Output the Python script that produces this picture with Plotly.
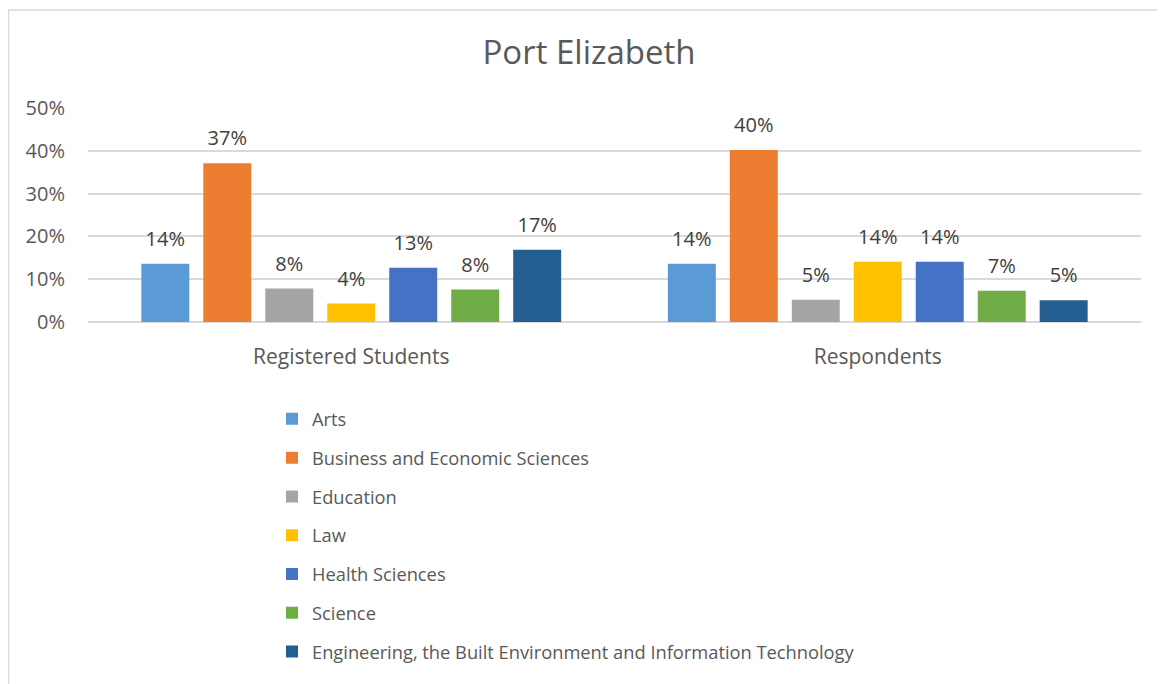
import plotly.graph_objects as go

groups = ["Registered Students", "Respondents"]
faculties = [
    "Arts",
    "Business and Economic Sciences",
    "Education",
    "Law",
    "Health Sciences",
    "Science",
    "Engineering, the Built Environment and Information Technology",
]
registered = [0.136, 0.371, 0.078, 0.043, 0.127, 0.076, 0.169]
respondents = [0.136, 0.402, 0.052, 0.141, 0.141, 0.073, 0.051]
colors = ["#5B9BD5", "#ED7D31", "#A5A5A5", "#FFC000", "#4472C4", "#70AD47", "#255E91"]
y_ticks = [0, 0.1, 0.2, 0.3, 0.4, 0.5]

FONT = "Open Sans"
TXT = "#595959"

# page has an 8px body margin, so the figure is a bit smaller than the window
OFF = 8
W, H = 1165 - OFF, 684 - OFF
L, R, T, B = 88 - OFF, 24, 107.7 - OFF, 684 - 322.3
pw, ph = W - L - R, H - T - B
BARGAP = 0.176


def px_x(x):
    return (x - OFF - L) / pw


def px_y(y):
    return (H - B - (y - OFF)) / ph


fig = go.Figure()
for i, name in enumerate(faculties):
    vals = [registered[i], respondents[i]]
    fig.add_trace(
        go.Bar(
            x=groups, y=vals, name=name, legendgroup=name,
            marker_color=colors[i], marker_line_width=0,
        )
    )
for i, name in enumerate(faculties):
    vals = [registered[i], respondents[i]]
    # data labels, grouped the same way as the bars so they sit on top of them
    fig.add_trace(
        go.Scatter(
            x=groups, y=vals, name=name, legendgroup=name, showlegend=False,
            mode="markers+text",
            marker=dict(size=19, color="rgba(0,0,0,0)"),
            text=[f"{v:.0%}" for v in vals],
            textposition="top center",
            textfont=dict(family=FONT, size=20, color="#404040"),
            cliponaxis=False, hoverinfo="skip",
        )
    )

# outer chart frame
fig.add_shape(
    type="rect", xref="paper", yref="paper",
    x0=px_x(8.5), x1=px_x(1190), y0=px_y(720), y1=px_y(9.5),
    line=dict(color="#D9D9D9", width=1.5), layer="below",
)

fig.update_layout(
    width=W, height=H,
    margin=dict(l=L, r=R, t=T, b=B, autoexpand=False),
    paper_bgcolor="white", plot_bgcolor="white",
    title=dict(
        text="Port Elizabeth", x=(589 - OFF) / W, xanchor="center",
        y=1 - (52 - OFF) / H, yanchor="middle",
        font=dict(family=FONT, size=33, color=TXT),
    ),
    barmode="group", bargap=BARGAP, bargroupgap=0.226,
    scattermode="group", scattergap=BARGAP,
    font=dict(family=FONT, color=TXT, size=18),
    showlegend=True,
    legend=dict(
        orientation="v", x=px_x(272), xanchor="left",
        y=px_y(401), yanchor="top",
        traceorder="grouped", tracegroupgap=12,
        font=dict(family=FONT, size=18.3, color=TXT),
        bgcolor="rgba(0,0,0,0)",
    ),
    xaxis=dict(
        showgrid=False, showline=False, zeroline=False,
        ticks="outside", ticklen=16, tickcolor="rgba(0,0,0,0)",
        tickfont=dict(family=FONT, size=21, color=TXT),
    ),
    yaxis=dict(
        range=[0, 0.5], tickvals=y_ticks, tickformat=".0%",
        showgrid=True, gridcolor="#D9D9D9", gridwidth=1.5,
        zeroline=True, zerolinecolor="#D9D9D9", zerolinewidth=1.5,
        showline=False, ticklabelstandoff=22,
        tickfont=dict(family=FONT, size=20, color=TXT),
    ),
)

fig.write_html("out.html")
